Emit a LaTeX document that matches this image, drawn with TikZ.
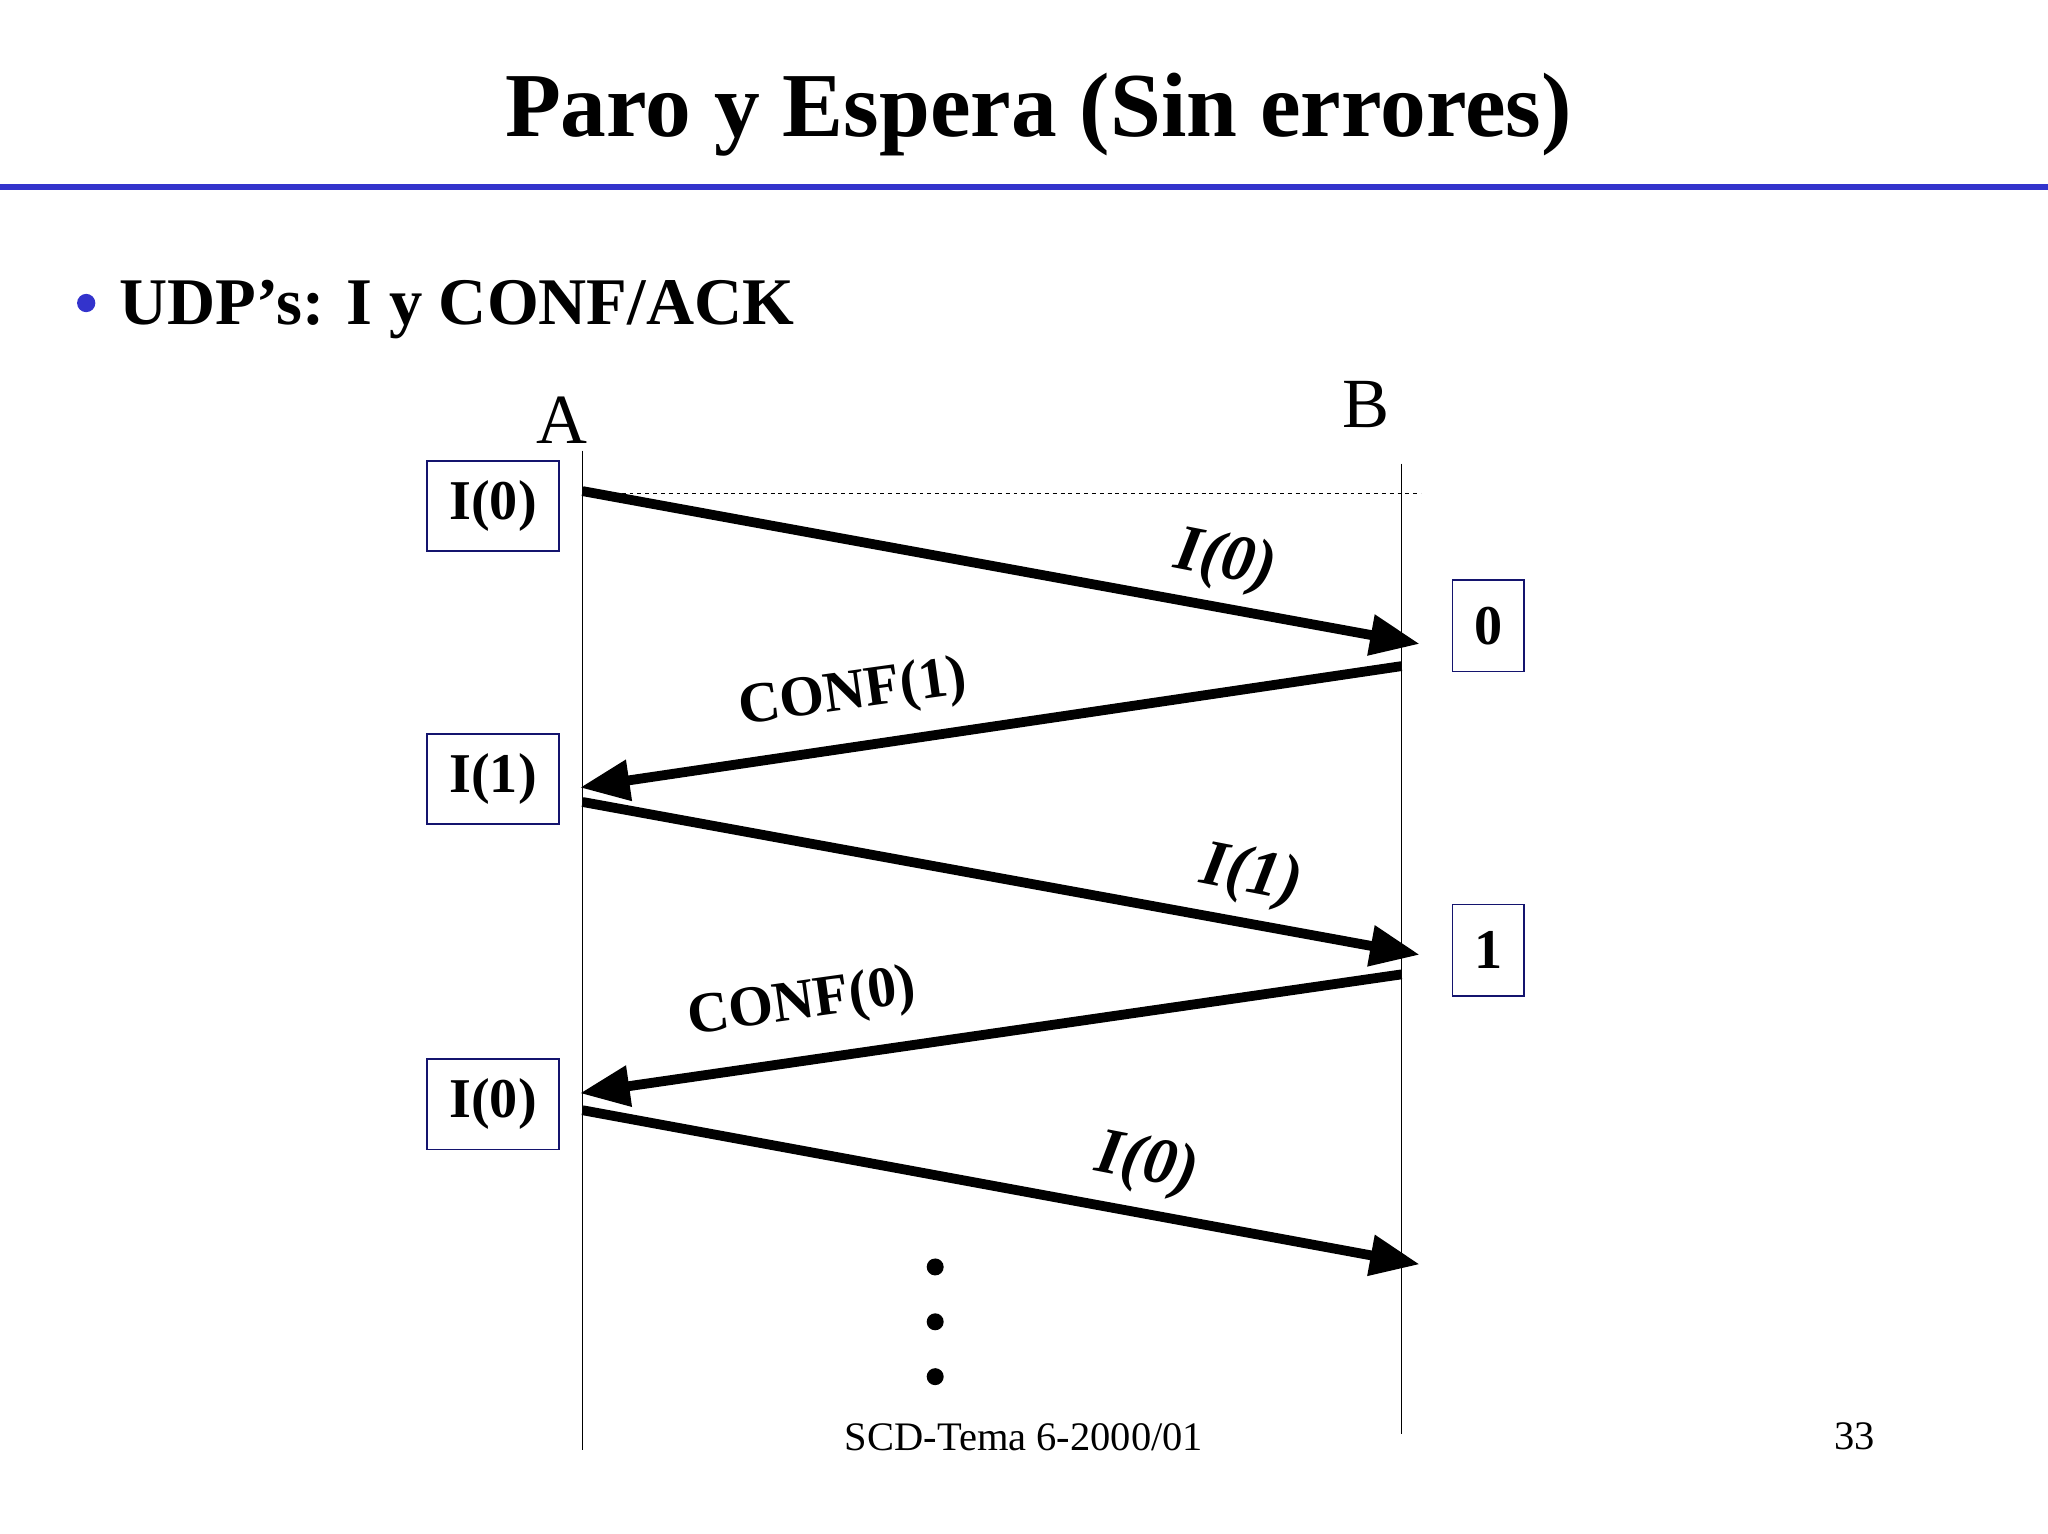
\documentclass[tikz,border=0pt]{standalone}
\usepackage{fontspec}
\setmainfont{Liberation Serif}
\usetikzlibrary{arrows.meta}
\definecolor{ttblue}{RGB}{51,51,204}
\definecolor{navy}{RGB}{20,20,110}
\begin{document}
\begin{tikzpicture}[x=1pt,y=-1pt,
  fbox/.style={draw=navy,line width=1.3pt,minimum width=101pt,minimum height=69pt,inner sep=0pt,font=\fontsize{43}{46}\selectfont\bfseries},
  sbox/.style={fbox,minimum width=55pt,minimum height=70pt},
  msg/.style={line width=7.5pt,-{Triangle[length=38pt,width=30pt]}},
  lbl/.style={font=\fontsize{44}{48}\selectfont\bfseries},
  ilbl/.style={font=\fontsize{50}{54}\selectfont\bfseries\itshape},
  vline/.style={line width=1pt}]
\useasboundingbox (0,0) rectangle (1568,1174);
\node[font=\fontsize{70}{74}\selectfont\bfseries] (title) at (795,88) {Paro y Espera (Sin errores)};
\draw[ttblue,line width=5pt] (0,143) -- (1568,143);
\fill[ttblue] (66,232) circle (7pt);
\node[anchor=west,font=\fontsize{51}{55}\selectfont\bfseries] (bul) at (88,237) {UDP’s: I y CONF/ACK};
\node[font=\fontsize{54}{58}\selectfont] (A) at (430,322) {A};
\node[font=\fontsize{54}{58}\selectfont] (B) at (1046,310) {B};
\coordinate (At) at (446,345); \coordinate (Ab) at (446,1110);
\coordinate (Bt) at (1073,355); \coordinate (Bb) at (1073,1098);
\draw[vline] (At) -- (Ab); \draw[vline] (Bt) -- (Bb);
\coordinate (d1) at (470,378); \coordinate (d2) at (1088,378);
\draw[dashed,line width=0.8pt] (d1) -- (d2);
\node[fbox] (b1) at (377.5,387.5) {I(0)};
\node[fbox] (b2) at (377.5,596.5) {I(1)};
\node[fbox] (b3) at (377.5,845.5) {I(0)};
\node[sbox] (s0) at (1139.5,479) {0};
\node[sbox] (s1) at (1139.5,727.5) {1};
\coordinate (a1s) at (446,376); \coordinate (a1e) at (1087,493);
\coordinate (a2s) at (1073,510); \coordinate (a2e) at (444,603);
\coordinate (a3s) at (446,614); \coordinate (a3e) at (1087,731);
\coordinate (a4s) at (1073,746); \coordinate (a4e) at (444,837);
\coordinate (a5s) at (446,850); \coordinate (a5e) at (1087,968);
\draw[msg] (a1s) -- (a1e);
\draw[msg] (a2s) -- (a2e);
\draw[msg] (a3s) -- (a3e);
\draw[msg] (a4s) -- (a4e);
\draw[msg] (a5s) -- (a5e);
\node[ilbl,rotate=-11] (l1) at (938,430) {I(0)};
\node[lbl,rotate=8] (l2) at (653,532) {CONF(1)};
\node[ilbl,rotate=-11] (l3) at (958,671) {I(1)};
\node[lbl,rotate=8] (l4) at (614,769) {CONF(0)};
\node[ilbl,rotate=-11] (l5) at (878,892) {I(0)};
\foreach \y in {970,1012,1054} \fill (716,\y) circle (6.5pt);
\node[font=\fontsize{31}{34}\selectfont] (foot) at (784,1100) {SCD-Tema 6-2000/01};
\node[font=\fontsize{31}{34}\selectfont] (pg) at (1420,1100) {33};
\end{tikzpicture}
\end{document}
